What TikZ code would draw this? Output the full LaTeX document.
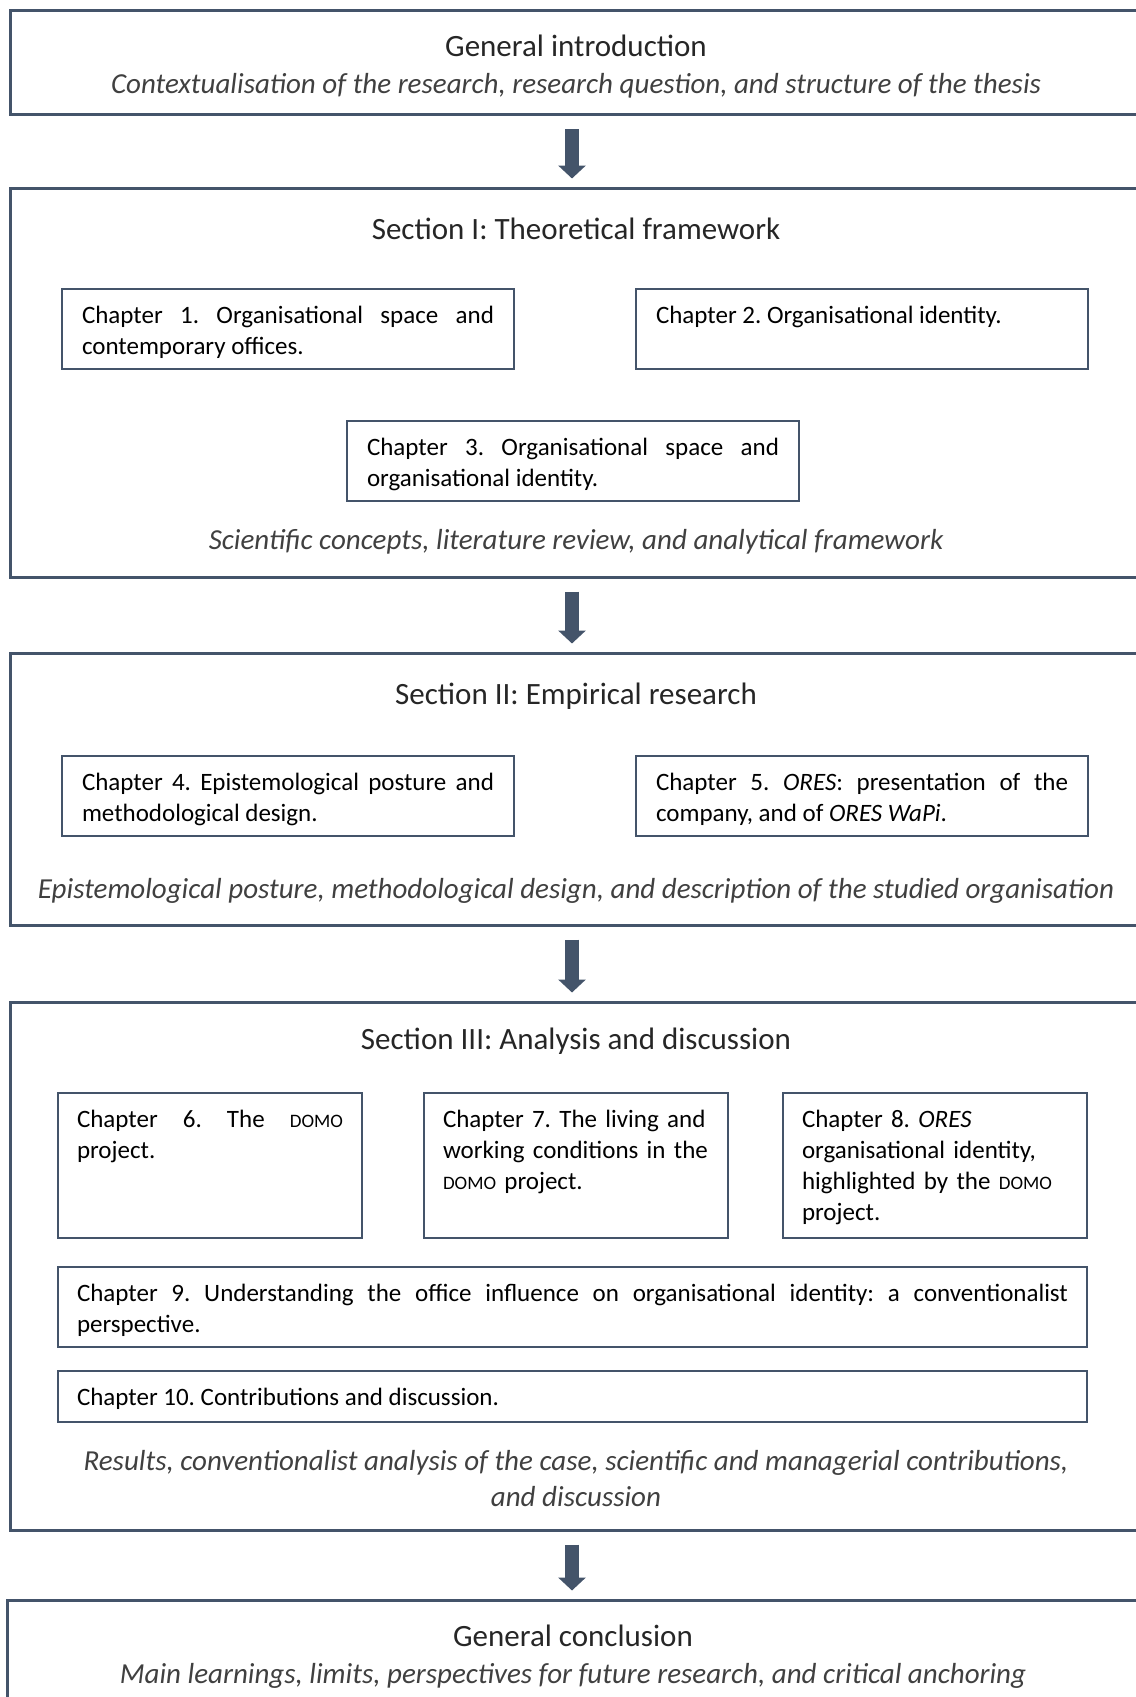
\documentclass[tikz,border=0pt]{standalone}
\usepackage{fontspec}
\setmainfont{Carlito}
\usepackage{tikz}
\usetikzlibrary{arrows.meta,positioning}
\definecolor{frame}{RGB}{68,84,106}
\definecolor{inktext}{RGB}{38,38,38}
\definecolor{notetext}{RGB}{64,64,64}
\newcommand{\domo}{{\fontsize{19}{31}\selectfont DOMO}}
\frenchspacing

\tikzset{
  outerbox/.style={draw=frame, line width=3pt, minimum width=1131pt, inner sep=0pt},
  headtext/.style={font=\fontsize{31}{36}\selectfont, text=inktext},
  notetextstyle/.style={font=\fontsize{29}{36}\selectfont\itshape, text=notetext, align=center},
  chapbox/.style={draw=frame, line width=2pt, anchor=north west, inner xsep=20pt, inner ysep=0pt,
    text height=34pt, font=\fontsize{25}{31}\selectfont, text=black, align=justify},
  halfbox/.style={chapbox, text width=412pt, text depth=46pt},
  thirdbox/.style={chapbox, inner xsep=19pt, text width=266pt, text depth=111pt},
  fullbox/.style={chapbox, inner xsep=19pt, text width=991pt, text depth=46pt},
  flow/.style={draw=frame, line width=14pt, -{Triangle[width=27pt,length=13pt]},
    shorten <=13pt, shorten >=8pt},
}

\begin{document}
\begin{tikzpicture}[x=1pt,y=-1pt]
  \useasboundingbox (0,0) rectangle (1135,1697);

  % outer frames
  \node[outerbox, minimum height=104pt] (intro) at (576,62.5) {};
  \node[outerbox, minimum height=389pt] (secI) at (576,382.5) {};
  \node[outerbox, minimum height=272pt] (secII) at (576,789) {};
  \node[outerbox, minimum height=528pt] (secIII) at (576,1266) {};
  \node[outerbox, minimum height=120pt] (concl) at (573,1660) {};

  % general introduction
  \node[headtext] (introhead) at (576,46) {General introduction};
  \node[notetextstyle] (intronote) at (576,86) {Contextualisation of the research, research question, and structure of the thesis};

  % section I
  \node[headtext] (secIhead) at (576,229) {Section I: Theoretical framework};
  \node[halfbox] (ch1) at (61,288) {Chapter 1. Organisational space and\linebreak contemporary offices.};
  \node[halfbox] (ch2) at (635,288) {Chapter 2. Organisational identity.};
  \node[halfbox] (ch3) at (346,420) {Chapter 3. Organisational space and\linebreak organisational identity.};
  \node[notetextstyle] (secInote) at (576,542) {Scientific concepts, literature review, and analytical framework};

  % section II
  \node[headtext] (secIIhead) at (576,696) {Section II: Empirical research};
  \node[halfbox] (ch4) at (61,755) {Chapter 4. Epistemological posture and\linebreak methodological design.};
  \node[halfbox] (ch5) at (635,755) {Chapter 5. \textit{ORES}: presentation of the\linebreak company, and of \textit{ORES WaPi}.};
  \node[notetextstyle] (secIInote) at (576,891) {Epistemological posture, methodological design, and description of the studied organisation};

  % section III
  \node[headtext] (secIIIhead) at (576,1041) {Section III: Analysis and discussion};
  \node[thirdbox] (ch6) at (57,1092) {Chapter 6. The \domo\linebreak project.};
  \node[thirdbox, align=left] (ch7) at (423,1092) {Chapter 7. The living and\\working conditions in the\\\domo{} project.};
  \node[thirdbox, align=left] (ch8) at (782,1092) {Chapter 8. \textit{ORES}\\organisational identity,\\highlighted by the \domo\\project.};
  \node[fullbox] (ch9) at (57,1266) {Chapter 9. Understanding the office influence on organisational identity: a conventionalist\linebreak perspective.};
  \node[fullbox, text depth=17pt] (ch10) at (57,1370) {Chapter 10. Contributions and discussion.};
  \node[notetextstyle] (secIIInote) at (576,1479) {Results, conventionalist analysis of the case, scientific and managerial contributions,\\and discussion};

  % general conclusion
  \node[headtext] (conclhead) at (573,1636) {General conclusion};
  \node[notetextstyle] (conclnote) at (573,1676) {Main learnings, limits, perspectives for future research, and critical anchoring};

  % flow between the parts
  \draw[flow] ([xshift=-4pt]intro.south) -- ([xshift=-4pt]secI.north);
  \draw[flow] ([xshift=-4pt]secI.south) -- ([xshift=-4pt]secII.north);
  \draw[flow] ([xshift=-4pt]secII.south) -- ([xshift=-4pt]secIII.north);
  \draw[flow] ([xshift=-4pt]secIII.south) -- ([xshift=-1pt]concl.north);
\end{tikzpicture}
\end{document}
